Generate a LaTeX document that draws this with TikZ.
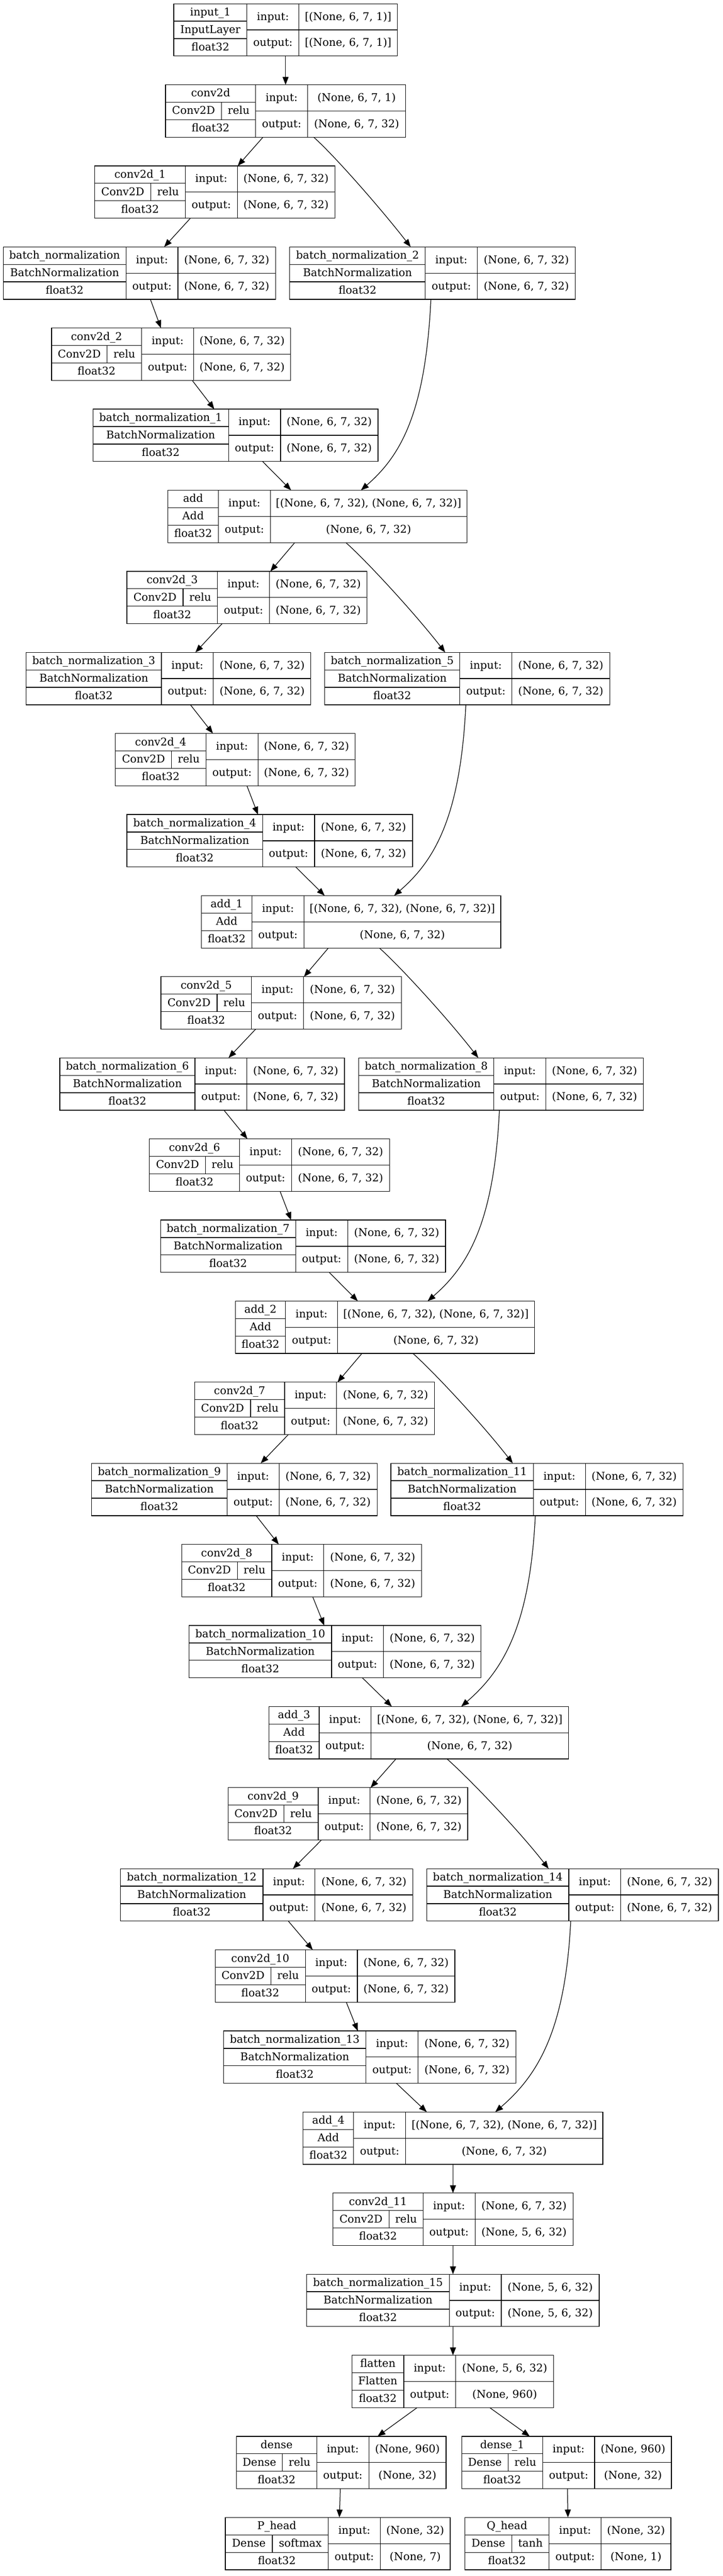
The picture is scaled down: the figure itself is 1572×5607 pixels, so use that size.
\documentclass[tikz,border=0pt]{standalone}
\usepackage{fontspec}
\setmainfont{DejaVu Serif}
\usetikzlibrary{arrows.meta,calc}
\newcommand\shpa{(None, 6, 7, 32)}
\newcommand\shpb{[(None, 6, 7, 32), (None, 6, 7, 32)]}
\newcommand\shpc{(None, 5, 6, 32)}
\begin{document}
\begin{tikzpicture}[x=1pt,y=-1pt,
	font=\fontsize{23.3pt}{28pt}\selectfont,
	layer/.style={draw, line width=1.4pt, anchor=north west, minimum height=114pt, inner sep=0pt, outer sep=0pt},
	grid/.style={line width=1.4pt},
	lbl/.style={inner sep=0pt, text height=17.5pt, text depth=3pt},
	flow/.style={line width=1.4pt, -{Triangle[length=17pt,width=13pt]}}]
	\path[use as bounding box, fill=white] (0,0) rectangle (1572,5607);
	% name/x/row/left width/shape width/split/title/class/activation/input/output
	\foreach \n/\x/\k/\wl/\wv/\cut/\ttl/\cls/\act/\ishape/\oshape [evaluate=\k as \y using 8+176.5*\k] in {
		in1/378/0/159/214/0/input\_1/InputLayer//{[(None, 6, 7, 1)]}/{[(None, 6, 7, 1)]},
		cv0/360/1/196/213/122/conv2d/Conv2D/relu/{(None, 6, 7, 1)}/{\shpa},
		cv1/206/2/197/212/122/conv2d\_1/Conv2D/relu/{\shpa}/{\shpa},
		bn0/7/3/267/212/0/batch\_normalization/BatchNormalization//{\shpa}/{\shpa},
		bn2/630/3/295/213/0/batch\_normalization\_2/BatchNormalization//{\shpa}/{\shpa},
		cv2/112/4/196/211/121/conv2d\_2/Conv2D/relu/{\shpa}/{\shpa},
		bn1/202/5/295/212/0/batch\_normalization\_1/BatchNormalization//{\shpa}/{\shpa},
		add0/365/6/110/427/0/add/Add//{\shpb}/{\shpa},
		cv3/276/7/197/212/122/conv2d\_3/Conv2D/relu/{\shpa}/{\shpa},
		bn3/57/8/294/212/0/batch\_normalization\_3/BatchNormalization//{\shpa}/{\shpa},
		bn5/706/8/294/213/0/batch\_normalization\_5/BatchNormalization//{\shpa}/{\shpa},
		cv4/251/9/197/211/122/conv2d\_4/Conv2D/relu/{\shpa}/{\shpa},
		bn4/276/10/295/213/0/batch\_normalization\_4/BatchNormalization//{\shpa}/{\shpa},
		add1/438/11/110/428/0/add\_1/Add//{\shpb}/{\shpa},
		cv5/350/12/197/213/122/conv2d\_5/Conv2D/relu/{\shpa}/{\shpa},
		bn6/130/13/294/212/0/batch\_normalization\_6/BatchNormalization//{\shpa}/{\shpa},
		bn8/780/13/294/212/0/batch\_normalization\_8/BatchNormalization//{\shpa}/{\shpa},
		cv6/325/14/196/213/122/conv2d\_6/Conv2D/relu/{\shpa}/{\shpa},
		bn7/349/15/294/213/0/batch\_normalization\_7/BatchNormalization//{\shpa}/{\shpa},
		add2/512/16/109/428/0/add\_2/Add//{\shpb}/{\shpa},
		cv7/423/17/196/213/122/conv2d\_7/Conv2D/relu/{\shpa}/{\shpa},
		bn9/199/18/295/213/0/batch\_normalization\_9/BatchNormalization//{\shpa}/{\shpa},
		bn11/850/18/310/212/0/batch\_normalization\_11/BatchNormalization//{\shpa}/{\shpa},
		cv8/395/19/196/213/121/conv2d\_8/Conv2D/relu/{\shpa}/{\shpa},
		bn10/411/20/310/212/0/batch\_normalization\_10/BatchNormalization//{\shpa}/{\shpa},
		add3/585/21/109/429/0/add\_3/Add//{\shpb}/{\shpa},
		cv9/496/22/196/212/121/conv2d\_9/Conv2D/relu/{\shpa}/{\shpa},
		bn12/262/23/310/213/0/batch\_normalization\_12/BatchNormalization//{\shpa}/{\shpa},
		bn14/928/23/309/212/0/batch\_normalization\_14/BatchNormalization//{\shpa}/{\shpa},
		cv10/468/24/196/212/121/conv2d\_10/Conv2D/relu/{\shpa}/{\shpa},
		bn13/486/25/310/213/0/batch\_normalization\_13/BatchNormalization//{\shpa}/{\shpa},
		add4/659/26/110/429/0/add\_4/Add//{\shpb}/{\shpa},
		cv11/724/27/196/213/122/conv2d\_11/Conv2D/relu/{\shpa}/{\shpc},
		bn15/667/28/310/213/0/batch\_normalization\_15/BatchNormalization//{\shpc}/{\shpc},
		flat/765/29/113/213/0/flatten/Flatten//{\shpc}/{(None, 960)},
		d0/514/30/175/168/100/dense/Dense/relu/{(None, 960)}/{(None, 32)},
		d1/1004/30/176/167/101/dense\_1/Dense/relu/{(None, 960)}/{(None, 32)},
		ph/490/31/224/152/102/P\_head/Dense/softmax/{(None, 32)}/{(None, 7)},
		qh/1011/31/183/152/102/Q\_head/Dense/tanh/{(None, 32)}/{(None, 1)}}
	{
		\node[layer, minimum width=(\wl+113+\wv)*1pt] (\n) at (\x,\y) {};
		\draw[grid] (\x,\y+38) -- ++(\wl,0) (\x,\y+76) -- ++(\wl,0)
			(\x+\wl,\y) -- ++(0,114) (\x+\wl+113,\y) -- ++(0,114)
			(\x+\wl,\y+57) -- ++(113+\wv,0);
		\node[lbl] (\n-t) at (\x+\wl/2,\y+19) {\ttl};
		\node[lbl] (\n-f) at (\x+\wl/2,\y+95) {float32};
		\ifnum\cut>0
			\draw[grid] (\x+\cut,\y+38) -- ++(0,38);
			\node[lbl] (\n-c) at (\x+\cut/2,\y+57) {\cls};
			\node[lbl] (\n-a) at (\x+\cut/2+\wl/2,\y+57) {\act};
		\else
			\node[lbl] (\n-c) at (\x+\wl/2,\y+57) {\cls};
		\fi
		\node[lbl] (\n-i) at (\x+\wl+56.5,\y+28.5) {input:};
		\node[lbl] (\n-o) at (\x+\wl+56.5,\y+85.5) {output:};
		\node[lbl] (\n-iv) at (\x+\wl+113+\wv/2,\y+28.5) {\ishape};
		\node[lbl] (\n-ov) at (\x+\wl+113+\wv/2,\y+85.5) {\oshape};
	}
	\foreach \a/\da/\b/\db in {in1/243/cv0/261, cv0/212/cv1/311, cv1/208/bn0/350,
		bn0/320/cv2/238, cv2/306/bn1/264, bn1/369/add0/268, add0/276/cv3/312,
		cv3/207/bn3/368, bn3/357/cv4/212, cv4/286/bn4/285, bn4/367/add1/268,
		add1/276/cv5/311, cv5/206/bn6/367, bn6/357/cv6/213, cv6/284/bn7/284,
		bn7/367/add2/266, add2/275/cv7/311, cv7/204/bn9/368, bn9/358/cv8/211,
		cv8/285/bn10/294, bn10/377/add3/267, add3/276/cv9/310, cv9/203/bn12/375,
		bn12/365/cv10/212, cv10/285/bn13/292, bn13/376/add4/269, add4/326/cv11/261,
		cv11/261/bn15/318, bn15/318/flat/220, flat/142/d0/307, flat/300/d1/148,
		d0/226/ph/248, d1/230/qh/224}
	\draw[flow] ($(\a.south west)+(\da,0)$) -- ($(\b.north west)+(\db,0)$);
	\foreach \a/\da/\b/\db in {cv0/322/bn2/263, add0/387/bn5/262, add1/387/bn8/260,
		add2/386/bn11/265, add3/387/bn14/265}
	\draw[flow] ($(\a.south west)+(\da,0)$) .. controls +(40,35) and +(-70,-90) .. ($(\b.north west)+(\db,0)$);
	\foreach \a/\da/\b/\db in {bn2/307/add0/420, bn5/307/add1/419, bn8/306/add2/418,
		bn11/314/add3/418, bn14/313/add4/418}
	\draw[flow] ($(\a.south west)+(\da,0)$) .. controls +(-12,250) and +(85,-74) .. ($(\b.north west)+(\db,0)$);
\end{tikzpicture}
\end{document}
